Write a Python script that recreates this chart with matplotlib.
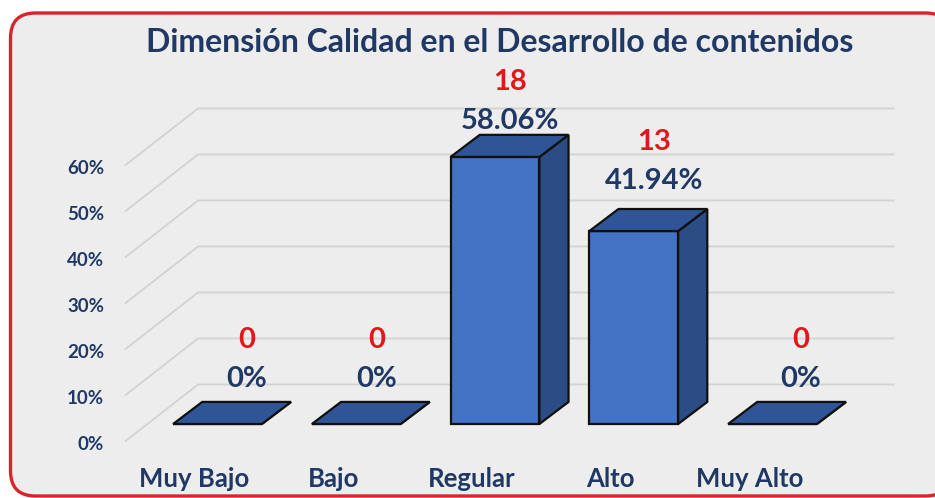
import matplotlib
matplotlib.use("Agg")
import matplotlib.pyplot as plt
from matplotlib.patches import FancyBboxPatch, Polygon

# data
categories = ["Muy Bajo", "Bajo", "Regular", "Alto", "Muy Alto"]
counts = [0, 0, 18, 13, 0]
percents = [0.0, 0.0, 58.06, 41.94, 0.0]
pct_labels = ["0%", "0%", "58.06%", "41.94%", "0%"]
yticks = [0, 10, 20, 30, 40, 50, 60]
ytick_labels = ["0%", "10%", "20%", "30%", "40%", "50%", "60%"]
title = "Dimensión Calidad en el Desarrollo de contenidos"

# palette
NAVY, RED = "#1F3864", "#E3161B"
FRONT, SIDE, TOP, EDGE = "#4472C4", "#2C4C86", "#2F5597", "#101010"
GRID, PANEL, BORDER = "#D2D2D2", "#EDEDED", "#D7262B"

# fake-3d geometry, in category / percent units
BAR_W = 0.64
DX, DY = 0.21, 4.8            # bar depth
WALL_X0, WALL_X1 = -0.14, 4.88
WALL_DY = 8.6                 # back wall raised above front plane
FLOOR_X, FLOOR_DY = -0.667, -3.8

# data label placement (excel nudges them a bit per bar)
LABEL_DX = [0.21, 0.145, 0.11, 0.15, 0.2]
LABEL_GAP = [8.0, 8.0, 6.0, 9.1, 8.0]
COUNT_GAP = 8.5

FONT = ["Lato", "DejaVu Sans"]


def main():
    fig = plt.figure(figsize=(9.35, 4.98), dpi=100)
    fig.patch.set_facecolor("white")
    panel = FancyBboxPatch((0.105, 0.02), 9.4, 4.83,
                           boxstyle="round,pad=0,rounding_size=0.25",
                           transform=fig.dpi_scale_trans,
                           fc=PANEL, ec=BORDER, lw=2.4, zorder=0)
    fig.add_artist(panel)

    ax = fig.add_axes([0, 0, 1, 1])
    ax.set_facecolor("none")
    ax.set_xlim(-1.5676, 5.1712)
    ax.set_ylim(-16.087, 92.174)
    ax.axis("off")

    # walls gridlines: side wall diagonal + back wall horizontal
    for p in yticks:
        ax.plot([FLOOR_X, WALL_X0, WALL_X1], [p + FLOOR_DY, p + WALL_DY, p + WALL_DY],
                color=GRID, lw=1.3, zorder=1, solid_capstyle="butt")
    for p, lab in zip(yticks, ytick_labels):
        ax.text(-0.818, p - 5.6, lab, ha="right", va="baseline", fontsize=13.5,
                fontweight="bold", color=NAVY, family=FONT)

    for i, v in enumerate(percents):
        x0, x1 = i - BAR_W / 2, i + BAR_W / 2
        faces = [
            ([(x0, 0), (x1, 0), (x1, v), (x0, v)], FRONT),
            ([(x1, 0), (x1 + DX, DY), (x1 + DX, v + DY), (x1, v)], SIDE),
            ([(x0, v), (x1, v), (x1 + DX, v + DY), (x0 + DX, v + DY)], TOP),
        ]
        for pts, c in faces:
            ax.add_patch(Polygon(pts, closed=True, fc=c, ec=EDGE, lw=1.6,
                                 joinstyle="miter", zorder=3))
        ly = v + LABEL_GAP[i]
        ax.text(i + LABEL_DX[i], ly, pct_labels[i], ha="center", va="baseline",
                fontsize=21, fontweight="bold", color=NAVY, family=FONT, zorder=4)
        ax.text(i + LABEL_DX[i], ly + COUNT_GAP, str(counts[i]), ha="center", va="baseline",
                fontsize=21, fontweight="bold", color=RED, family=FONT, zorder=4)
        ax.text(i - 0.165, -13.7, categories[i], ha="center", va="baseline",
                fontsize=18.5, fontweight="bold", color=NAVY, family=FONT)

    fig.text(500 / 935, 1 - 52 / 498, title, ha="center", va="baseline",
             fontsize=23, fontweight="bold", color=NAVY, family=FONT)

    fig.savefig("out.png", dpi=100)
    plt.close(fig)


if __name__ == "__main__":
    main()
